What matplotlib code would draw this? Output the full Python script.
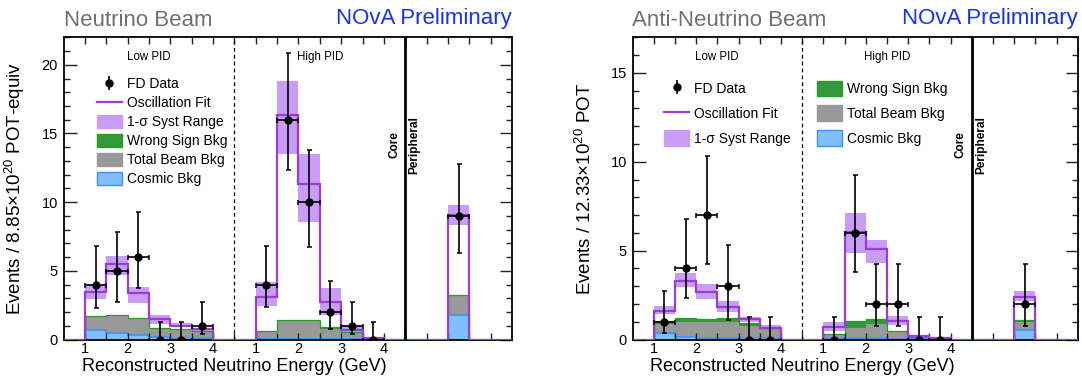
import numpy as np
import matplotlib
matplotlib.use('Agg')
import matplotlib.pyplot as plt
from matplotlib.patches import Patch
from matplotlib.lines import Line2D
from matplotlib.ticker import MultipleLocator
import matplotlib.transforms as mtransforms

plt.rcParams['font.family'] = ['Liberation Sans', 'DejaVu Sans']
plt.rcParams['mathtext.fontset'] = 'custom'
plt.rcParams['mathtext.rm'] = 'Liberation Sans'
plt.rcParams['mathtext.it'] = 'Liberation Sans:italic'
plt.rcParams['mathtext.bf'] = 'Liberation Sans:bold'

# energy bins (GeV) shown in each PID group: 1.0-1.5 ... 3.5-4.0
energy_bins = [1.0, 1.5, 2.0, 2.5, 3.0, 3.5]
tick_energies = [1, 2, 3, 4]

# ---------------- neutrino beam ----------------
nu_low_data = [4, 5, 6, 0, 0, 1]
nu_low_data_lo = [2.31, 2.70, 3.76, 0, 0, 0.37]
nu_low_data_hi = [6.79, 7.83, 9.28, 1.29, 1.29, 2.75]
nu_low_fit = [3.47, 5.53, 3.35, 1.47, 1.00, 0.74]
nu_low_syst_lo = [2.96, 4.73, 2.67, 1.13, 0.89, 0.57]
nu_low_syst_hi = [4.03, 6.11, 3.79, 1.78, 1.22, 0.81]
nu_low_cosmic = [0.69, 0.45, 0.33, 0.16, 0.12, 0.10]
nu_low_beam = [0.93, 1.29, 1.22, 0.64, 0.60, 0.46]
nu_low_ws = [0.06, 0.06, 0.05, 0.05, 0.04, 0.04]

nu_high_data = [4, 16, 10, 2, 1, 0]
nu_high_data_lo = [2.33, 12.36, 6.74, 0.74, 0.37, 0]
nu_high_data_hi = [6.79, 20.83, 13.83, 4.25, 2.75, 1.29]
nu_high_fit = [3.11, 16.35, 11.34, 2.75, 0.69, 0.09]
nu_high_syst_lo = [2.43, 13.47, 8.55, 1.78, 0.57, 0.04]
nu_high_syst_hi = [4.15, 18.80, 13.52, 3.76, 1.05, 0.15]
nu_high_cosmic = [0.06, 0.06, 0.06, 0.05, 0.04, 0.02]
nu_high_beam = [0.54, 1.28, 1.28, 0.75, 0.46, 0.03]
nu_high_ws = [0.04, 0.08, 0.08, 0.12, 0.04, 0.01]

nu_peri_data = [9]
nu_peri_data_lo = [6.30]
nu_peri_data_hi = [12.80]
nu_peri_fit = [9.04]
nu_peri_syst_lo = [8.32]
nu_peri_syst_hi = [9.77]
nu_peri_cosmic = [1.78]
nu_peri_beam = [1.38]
nu_peri_ws = [0.06]

# ---------------- anti-neutrino beam ----------------
anu_low_data = [1, 4, 7, 3, 0, 0]
anu_low_data_lo = [0.37, 2.33, 4.25, 1.10, 0, 0]
anu_low_data_hi = [2.75, 6.78, 10.30, 5.30, 1.29, 1.29]
anu_low_fit = [1.61, 3.31, 2.69, 1.81, 1.15, 0.67]
anu_low_syst_lo = [1.42, 2.98, 2.26, 1.53, 0.97, 0.48]
anu_low_syst_hi = [1.89, 3.73, 3.11, 2.17, 1.25, 0.82]
anu_low_cosmic = [0.35, 0.12, 0.10, 0.10, 0.08, 0.08]
anu_low_beam = [0.52, 0.85, 0.87, 0.90, 0.70, 0.51]
anu_low_ws = [0.17, 0.22, 0.18, 0.21, 0.17, 0.04]

anu_high_data = [0, 6, 2, 2, 0, 0]
anu_high_data_lo = [0, 3.82, 0.74, 0.74, 0, 0]
anu_high_data_hi = [1.29, 9.28, 4.25, 4.25, 1.29, 1.29]
anu_high_fit = [0.72, 6.02, 5.10, 1.06, 0.21, 0.08]
anu_high_syst_lo = [0.48, 4.86, 4.33, 0.82, 0.16, 0.05]
anu_high_syst_hi = [0.97, 7.11, 5.57, 1.32, 0.25, 0.10]
anu_high_cosmic = [0.06, 0.06, 0.06, 0.05, 0.03, 0.02]
anu_high_beam = [0.19, 0.57, 0.81, 0.35, 0.07, 0.01]
anu_high_ws = [0.08, 0.43, 0.28, 0.08, 0.02, 0.01]

anu_peri_data = [2]
anu_peri_data_lo = [0.74]
anu_peri_data_hi = [4.25]
anu_peri_fit = [2.41]
anu_peri_syst_lo = [2.19]
anu_peri_syst_hi = [2.73]
anu_peri_cosmic = [0.54]
anu_peri_beam = [0.46]
anu_peri_ws = [0.10]

C_SYST = '#c99df5'
C_FIT = '#9b3dd2'
C_WS = '#33993a'
C_WS_EDGE = '#22a022'
C_BEAM = '#999999'
C_COS = '#80bfff'
C_COS_EDGE = '#3a96f5'
C_TITLE = '#707070'
C_PRELIM = '#1732f0'

# concatenated axis: low PID 0-4, high PID 4-8, peripheral 8-10.5
edges = np.arange(0, 10.51, 0.5)
centers = edges[:-1] + 0.25
low_idx = np.array([int((e - 0.5) / 0.5) for e in energy_bins])
high_idx = low_idx + 8
peri_idx = np.array([18])


def full(low, high, peri):
    out = np.zeros(len(edges) - 1)
    out[low_idx] = low
    out[high_idx] = high
    out[peri_idx] = peri
    return out


def draw_panel(ax, fit, slo, shi, cos, beam, ws, data, dlo, dhi, ymax):
    lvl0 = cos
    lvl1 = cos + beam
    lvl2 = lvl1 + ws
    ax.stairs(shi, edges, baseline=slo, fill=True, color=C_SYST, lw=0, zorder=1)
    ax.stairs(lvl2, edges, baseline=lvl1, fill=True, color=C_WS, lw=0, zorder=1.2)
    ax.stairs(lvl1, edges, baseline=lvl0, fill=True, color=C_BEAM, lw=0, zorder=1.2)
    ax.stairs(lvl0, edges, fill=True, color=C_COS, lw=0, zorder=1.2)
    ax.stairs(lvl2, edges, color=C_WS_EDGE, lw=0.9, zorder=1.3)
    ax.stairs(lvl0, edges, color=C_COS_EDGE, lw=1.2, zorder=1.4)
    ax.stairs(fit, edges, color=C_FIT, lw=1.6, zorder=3)

    idx = np.concatenate([low_idx, high_idx, peri_idx])
    y = np.asarray(data, dtype=float)
    yerr = [y - np.asarray(dlo), np.asarray(dhi) - y]
    ax.errorbar(centers[idx], y, yerr=yerr, xerr=0.25, fmt='o', color='k',
                ms=5, elinewidth=1.2, capsize=1.8, capthick=1.1, zorder=4)

    ax.axvline(4, color='k', lw=0.9, ls=(0, (3, 2.5)), zorder=5)
    ax.axvline(8, color='k', lw=2.0, zorder=5)

    ax.set_xlim(0, 10.5)
    ax.set_ylim(0, ymax)
    ticks = [e - 0.5 for e in tick_energies] + [e + 3.5 for e in tick_energies]
    ax.set_xticks(ticks, [str(e) for e in tick_energies] * 2)
    ax.set_xticks(np.arange(0.5, 10.5, 0.5), minor=True)
    ax.yaxis.set_major_locator(MultipleLocator(5))
    ax.yaxis.set_minor_locator(MultipleLocator(1))
    ax.tick_params(which='both', direction='in', top=True, right=True,
                   labelsize=10.5, width=1.0, color='#222222')
    ax.tick_params(axis='y', which='major', length=9, pad=4)
    ax.tick_params(axis='y', which='minor', length=4.5)
    ax.tick_params(axis='x', which='both', length=5, pad=1.5)
    for s in ax.spines.values():
        s.set_linewidth(1.3)

    trans = mtransforms.blended_transform_factory(ax.transData, ax.transAxes)
    ax.text(2, 0.936, 'Low PID', transform=trans, ha='center', va='center', fontsize=8.3)
    ax.text(6, 0.936, 'High PID', transform=trans, ha='center', va='center', fontsize=8.3)
    ax.text(7.74, 0.645, 'Core', transform=trans, rotation=90, ha='center',
            va='center', fontsize=8.5, fontweight='bold')
    ax.text(8.22, 0.645, 'Peripheral', transform=trans, rotation=90, ha='center',
            va='center', fontsize=8.5, fontweight='bold')

    ax.set_xlabel('Reconstructed Neutrino Energy (GeV)', fontsize=13)
    ax.xaxis.set_label_coords(4 / 10.5, -0.06)


def legend_handles(ax):
    h_data = ax.errorbar([np.nan], [np.nan], yerr=[[1], [1]], fmt='o', color='k',
                         ms=5, elinewidth=1.2)
    h_fit = Line2D([], [], color=C_FIT, lw=1.6)
    h_syst = Patch(facecolor=C_SYST, edgecolor=C_SYST)
    h_ws = Patch(facecolor=C_WS, edgecolor=C_WS_EDGE)
    h_beam = Patch(facecolor=C_BEAM, edgecolor=C_BEAM)
    h_cos = Patch(facecolor=C_COS, edgecolor=C_COS_EDGE)
    return h_data, h_fit, h_syst, h_ws, h_beam, h_cos


fig = plt.figure(figsize=(10.82, 3.81), dpi=100)
ax1 = fig.add_axes([63.5 / 1082, 1 - 339.5 / 381, 448.5 / 1082, 302.2 / 381])
ax2 = fig.add_axes([632.5 / 1082, 1 - 339.5 / 381, 445.2 / 1082, 302.2 / 381])

draw_panel(ax1,
           full(nu_low_fit, nu_high_fit, nu_peri_fit),
           full(nu_low_syst_lo, nu_high_syst_lo, nu_peri_syst_lo),
           full(nu_low_syst_hi, nu_high_syst_hi, nu_peri_syst_hi),
           full(nu_low_cosmic, nu_high_cosmic, nu_peri_cosmic),
           full(nu_low_beam, nu_high_beam, nu_peri_beam),
           full(nu_low_ws, nu_high_ws, nu_peri_ws),
           nu_low_data + nu_high_data + nu_peri_data,
           nu_low_data_lo + nu_high_data_lo + nu_peri_data_lo,
           nu_low_data_hi + nu_high_data_hi + nu_peri_data_hi,
           22)
draw_panel(ax2,
           full(anu_low_fit, anu_high_fit, anu_peri_fit),
           full(anu_low_syst_lo, anu_high_syst_lo, anu_peri_syst_lo),
           full(anu_low_syst_hi, anu_high_syst_hi, anu_peri_syst_hi),
           full(anu_low_cosmic, anu_high_cosmic, anu_peri_cosmic),
           full(anu_low_beam, anu_high_beam, anu_peri_beam),
           full(anu_low_ws, anu_high_ws, anu_peri_ws),
           anu_low_data + anu_high_data + anu_peri_data,
           anu_low_data_lo + anu_high_data_lo + anu_peri_data_lo,
           anu_low_data_hi + anu_high_data_hi + anu_peri_data_hi,
           17)

ax1.set_ylabel('Events / 8.85$\\times$10$^{20}$ POT-equiv', fontsize=13.5)
ax1.yaxis.set_label_coords(-0.082, 0.5)
ax2.set_ylabel('Events / 12.33$\\times$10$^{20}$ POT', fontsize=13.5)
ax2.yaxis.set_label_coords(-0.084, 0.5)

labels = ['FD Data', 'Oscillation Fit', '1-\u03c3 Syst Range',
          'Wrong Sign Bkg', 'Total Beam Bkg', 'Cosmic Bkg']

h = legend_handles(ax1)
ax1.legend(h, labels, loc='upper left', bbox_to_anchor=(0.074, 0.868),
           frameon=False, fontsize=10, handlelength=1.8, handleheight=1.0,
           handletextpad=0.35, labelspacing=0.36, borderpad=0, borderaxespad=0)

h = legend_handles(ax2)
leg_a = ax2.legend(h[:3], labels[:3], loc='upper left', bbox_to_anchor=(0.071, 0.857),
                   frameon=False, fontsize=10, handlelength=1.8, handleheight=1.3,
                   handletextpad=0.35, labelspacing=0.7, borderpad=0, borderaxespad=0)
ax2.add_artist(leg_a)
ax2.legend(h[3:], labels[3:], loc='upper left', bbox_to_anchor=(0.4155, 0.857),
           frameon=False, fontsize=10, handlelength=1.8, handleheight=1.3,
           handletextpad=0.35, labelspacing=0.7, borderpad=0, borderaxespad=0)

fig.text(63.5 / 1082, 1 - 26 / 381, 'Neutrino Beam', color=C_TITLE, fontsize=16,
         ha='left', va='baseline')
fig.text(512 / 1082, 1 - 24 / 381, 'NOvA Preliminary', color=C_PRELIM, fontsize=16,
         ha='right', va='baseline')
fig.text(632.5 / 1082, 1 - 26 / 381, 'Anti-Neutrino Beam', color=C_TITLE, fontsize=16,
         ha='left', va='baseline')
fig.text(1078 / 1082, 1 - 24 / 381, 'NOvA Preliminary', color=C_PRELIM, fontsize=16,
         ha='right', va='baseline')

fig.savefig('out.png', dpi=100)
